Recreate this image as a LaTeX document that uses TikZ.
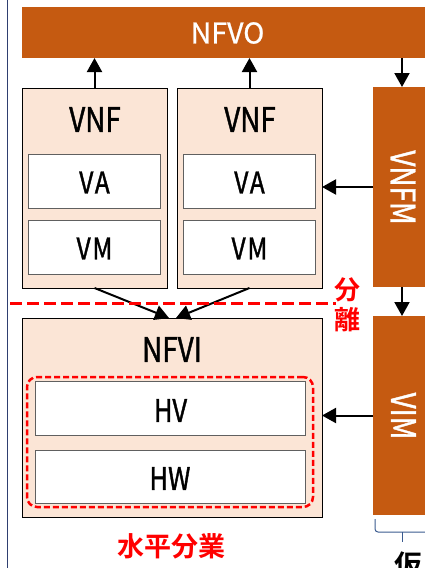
\documentclass[tikz,border=0pt]{standalone}
\usepackage{fontspec}
\setmainfont{Noto Sans CJK JP}
\newfontfamily\lat{Noto Sans CJK JP}[FakeStretch=0.82,FakeBold=1.2]
\newfontfamily\latsp{Noto Sans CJK JP}[FakeStretch=0.82,FakeBold=1.2,LetterSpace=6]
\newfontfamily\latw{Noto Sans CJK JP}[FakeBold=0.8]
\newfontfamily\cjkb{Noto Sans CJK JP Bold}
\usetikzlibrary{arrows.meta}
\definecolor{org}{HTML}{C55A11}
\definecolor{peach}{HTML}{FBE5D6}
\definecolor{innergray}{HTML}{606060}
\definecolor{navyline}{HTML}{2F3F70}
\definecolor{bracecol}{HTML}{3A5A8F}
\definecolor{sepred}{HTML}{FF0000}
\begin{document}
\begin{tikzpicture}[x=1pt,y=-1pt,
  every node/.style={inner sep=0pt, outer sep=0pt},
  bar/.style={fill=org, draw=none, anchor=north west},
  barlbl/.style={text=white, font=\lat\fontsize{34}{34}\selectfont},
  outerbox/.style={fill=peach, draw=black, line width=0.8pt, anchor=north west},
  innerbox/.style={fill=white, draw=innergray, line width=0.8pt, anchor=north west},
  boxlbl/.style={text=black, font=\lat\fontsize{34}{34}\selectfont},
  innerlbl/.style={text=black, font=\latsp\fontsize{30}{30}\selectfont},
  arr/.style={draw=black, line width=2pt, -{Triangle[length=14pt,width=15pt]}},
  reddash/.style={draw=sepred, line width=3pt, dash pattern=on 12pt off 5pt},
  grpdash/.style={draw=sepred, line width=2.5pt, dash pattern=on 6pt off 3pt, rounded corners=10pt, anchor=north west},
  redlbl/.style={text=sepred, font=\cjkb\fontsize{26}{26}\selectfont},
]
\useasboundingbox (0,0) rectangle (425,568);
\clip (0,0) rectangle (425,568);
% left frame line
\draw[navyline, line width=1pt] (7,0) -- (7,568);
% NFVO
\node[bar, minimum width=403pt, minimum height=51pt] (nfvo) at (22,7) {};
\node[text=white, font=\latw\fontsize{28.5}{28.5}\selectfont] (nfvolbl) at (227.5,33) {NFVO};
% VNF boxes
\node[outerbox, minimum width=145pt, minimum height=200pt] (vnf1) at (22,88) {};
\node[outerbox, minimum width=145pt, minimum height=200pt] (vnf2) at (177,88) {};
\node[boxlbl] (vnf1lbl) at (95,119.5) {VNF};
\node[boxlbl] (vnf2lbl) at (250,119.5) {VNF};
\node[innerbox, minimum width=132pt, minimum height=54pt] (va1) at (28,154) {};
\node[innerbox, minimum width=132pt, minimum height=54pt] (vm1) at (28,220) {};
\node[innerbox, minimum width=132pt, minimum height=54pt] (va2) at (183,154) {};
\node[innerbox, minimum width=132pt, minimum height=54pt] (vm2) at (183,220) {};
\node[innerlbl] (va1lbl) at (94.5,182.5) {VA};
\node[innerlbl] (vm1lbl) at (94.5,248.5) {VM};
\node[innerlbl] (va2lbl) at (249.5,182.5) {VA};
\node[innerlbl] (vm2lbl) at (249.5,248.5) {VM};
% VNFM and VIM
\node[bar, minimum width=52pt, minimum height=200pt] (vnfm) at (373,87) {};
\node[barlbl, rotate=-90] (vnfmlbl) at (403,187.5) {VNFM};
\node[bar, minimum width=52pt, minimum height=199pt] (vim) at (373,316) {};
\node[barlbl, rotate=-90] (vimlbl) at (403.5,416) {VIM};
% NFVI
\node[outerbox, minimum width=300pt, minimum height=199pt] (nfvi) at (22,318) {};
\node[boxlbl] (nfvilbl) at (172,349.5) {NFVI};
\node[innerbox, minimum width=270pt, minimum height=54pt] (hv) at (35,381) {};
\node[innerbox, minimum width=270pt, minimum height=53pt] (hw) at (35,450) {};
\node[innerlbl, font=\lat\fontsize{31}{31}\selectfont] (hvlbl) at (170.5,410.5) {HV};
\node[innerlbl, font=\lat\fontsize{31}{31}\selectfont] (hwlbl) at (170,478.5) {HW};
\node[grpdash, minimum width=286pt, minimum height=130pt] (grp) at (27,377) {};
% arrows
\coordinate (c1) at ([xshift=3pt]vnfm.north);
\draw[arr] (vnf1.north) -- (vnf1.north |- nfvo.south);
\draw[arr] (vnf2.north) -- (vnf2.north |- nfvo.south);
\draw[arr] (c1 |- nfvo.south) -- (c1);
\draw[arr] (vnfm.west) -- (vnfm.west -| vnf2.east);
\draw[arr] (c1 |- vnfm.south) -- (c1 |- vim.north);
\draw[arr] (vim.west) -- (vim.west -| nfvi.east);
\draw[arr] (vnf1.south) -- ([xshift=-3pt]nfvi.north);
\draw[arr] (vnf2.south) -- ([xshift=4pt]nfvi.north);
% separation line
\draw[reddash] (10,303) -- (336,303);
\node[redlbl] (bun) at (347,290) {分};
\node[redlbl] (ri) at (347,319.5) {離};
\node[redlbl, font=\cjkb\fontsize{27}{27}\selectfont] (suihei) at (171,546) {水平分業};
% bracket below VIM
\draw[bracecol, line width=1pt, rounded corners=3pt] (375,519) -- (375,532) -- (430,532);
\draw[bracecol, line width=1pt] (402,532) -- (402,542);
\node[text=black, font=\cjkb\fontsize{28}{28}\selectfont] (ka) at (408,565) {仮};
\end{tikzpicture}
\end{document}
